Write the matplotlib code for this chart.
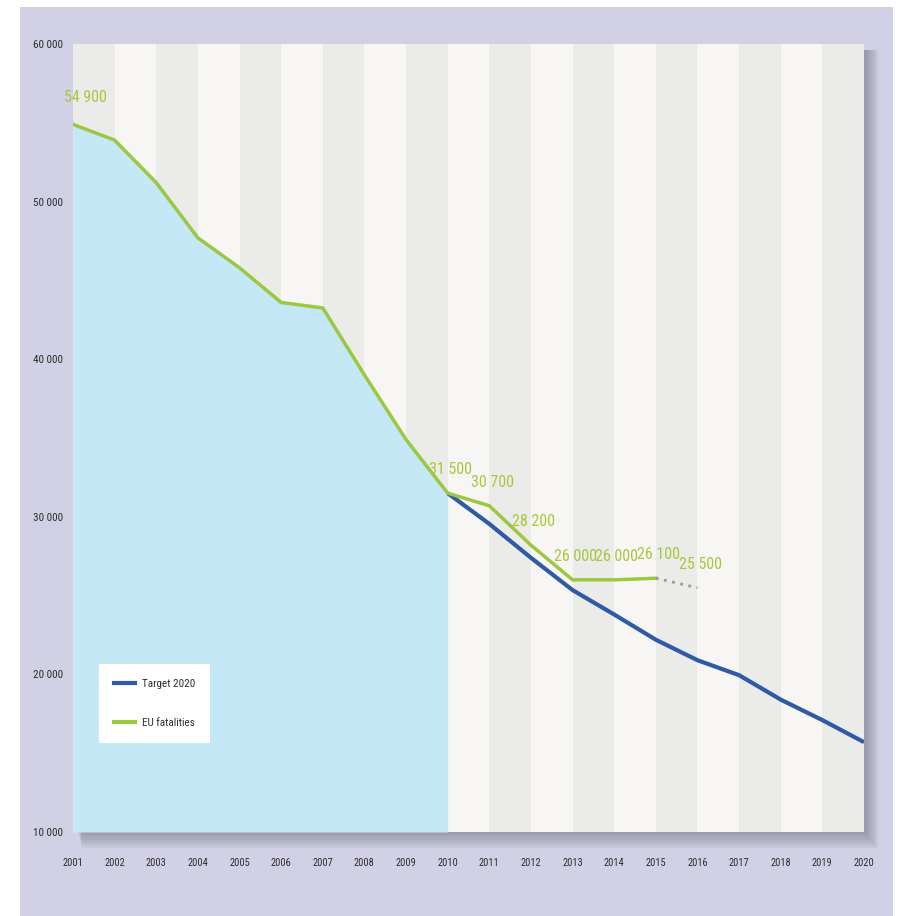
import numpy as np
import matplotlib
matplotlib.use("Agg")
import matplotlib.pyplot as plt
from matplotlib import font_manager
from matplotlib.patches import Rectangle

# ── Data ──────────────────────────────────────────────────────
years = list(range(2001, 2021))
eu_years = [2001, 2002, 2003, 2004, 2005, 2006, 2007, 2008, 2009, 2010,
            2011, 2012, 2013, 2014, 2015]
eu_fatalities = [54900, 53900, 51200, 47700, 45800, 43600, 43250, 39000, 34900, 31500,
                 30700, 28200, 26000, 26000, 26100]
estimate_years = [2015, 2016]
estimate_values = [26100, 25500]
target_years = [2010, 2011, 2012, 2013, 2014, 2015, 2016, 2017, 2018, 2019, 2020]
target_values = [31500, 29550, 27400, 25350, 23800, 22200, 20900, 19950, 18400, 17100, 15700]
label_years = [2001, 2010, 2011, 2012, 2013, 2014, 2015, 2016]
label_values = [54900, 31500, 30700, 28200, 26000, 26000, 26100, 25500]
label_texts = ["54 900", "31 500", "30 700", "28 200", "26 000", "26 000", "26 100", "25 500"]
y_ticks = [10000, 20000, 30000, 40000, 50000, 60000]
y_ticklabels = ["10 000", "20 000", "30 000", "40 000", "50 000", "60 000"]

GREEN = "#9cc741"
LABEL_GREEN = "#a6c83e"
BLUE = "#2f5ba6"
FILL = "#c4e8f6"
PURPLE = "#d1d0e4"
TICK = "#2e2e2e"

# narrowest face available
names = {f.name for f in font_manager.fontManager.ttflist}
FONT = ["DejaVu Sans"]
for cand in ["Liberation Sans Narrow", "Roboto Condensed", "Open Sans Condensed", "Noto Sans Condensed"]:
    if cand in names:
        FONT = [cand, "DejaVu Sans"]
        break
STRETCH = "condensed"

W, H = 897, 916
fig = plt.figure(figsize=(W / 100, H / 100), dpi=100)
fig.patch.set_facecolor("white")

def fx(px):
    return px / W

def fy(py):
    return 1 - py / H

# purple panel behind everything
fig.patches.append(Rectangle((fx(20), 0), fx(873), fy(7), transform=fig.transFigure,
                             facecolor=PURPLE, edgecolor="none", zorder=0))

# soft shadow under / right of the plot area
for i in range(8):
    fig.patches.append(Rectangle((fx(78 + i * 0.5), fy(833 + i * 2.2)), fx(788 + i * 1.2), fy(50) - fy(833 + i * 2.2),
                                 transform=fig.transFigure, facecolor="#4a4a5a", alpha=0.06,
                                 edgecolor="none", zorder=1))

# ── Axes ──────────────────────────────────────────────────────
left, right, top, bottom = 73, 864, 44, 832
ax = fig.add_axes([fx(left), fy(bottom), fx(right - left), (bottom - top) / H])
ax.set_zorder(2)
ax.set_xlim(years[0], years[-1])
ax.set_ylim(10000, 60000)

# alternating stripes
for i, yr in enumerate(years[:-1]):
    ax.axvspan(yr, yr + 1, color="#ebebe9" if i % 2 == 0 else "#f8f6f4", lw=0, zorder=0)

# blue area under the observed curve up to 2010
fill_x = eu_years[:10]
fill_y = eu_fatalities[:10]
ax.fill_between(fill_x, fill_y, 10000, color=FILL, lw=0, zorder=1)

ax.plot(target_years, target_values, color=BLUE, lw=3, zorder=3, solid_capstyle="butt")
ax.plot(eu_years, eu_fatalities, color=GREEN, lw=2.5, zorder=4)
ax.plot(estimate_years, estimate_values, color="#9a9c8c", lw=2, ls=(0, (1, 2)), zorder=4)

for yr, v, t in zip(label_years, label_values, label_texts):
    off = (9, 19) if yr == 2001 else (2, 17)
    ax.annotate(t, (yr, v), xytext=off, textcoords="offset points",
                ha="center", va="center", color=LABEL_GREEN, fontsize=11.5, family=FONT,
                fontstretch=STRETCH, zorder=5)

for s in ax.spines.values():
    s.set_visible(False)
ax.set_yticks(y_ticks)
ax.set_yticklabels(y_ticklabels)
ax.set_xticks(years)
ax.set_xticklabels([str(y) for y in years])
ax.tick_params(length=0, colors=TICK, labelsize=8)
ax.tick_params(axis="x", pad=19, labelsize=7.5)
ax.tick_params(axis="y", pad=7)
for lbl in ax.get_xticklabels() + ax.get_yticklabels():
    lbl.set_family(FONT)
    lbl.set_fontstretch(STRETCH)

# legend
h1, = ax.plot([], [], color=BLUE, lw=3, label="Target 2020")
h2, = ax.plot([], [], color=GREEN, lw=3, label="EU fatalities")
leg = ax.legend(handles=[h1, h2], loc="lower left", bbox_to_anchor=(0.033, 0.113),
                borderaxespad=0, frameon=True, fancybox=False, borderpad=1.35,
                labelspacing=2.6, handlelength=1.9, handletextpad=0.6,
                prop={"family": FONT, "size": 8, "stretch": STRETCH})
leg.get_frame().set_facecolor("white")
leg.get_frame().set_edgecolor("none")
leg.get_frame().set_alpha(1)
for t in leg.get_texts():
    t.set_color(TICK)

fig.savefig("out.png", dpi=100)
